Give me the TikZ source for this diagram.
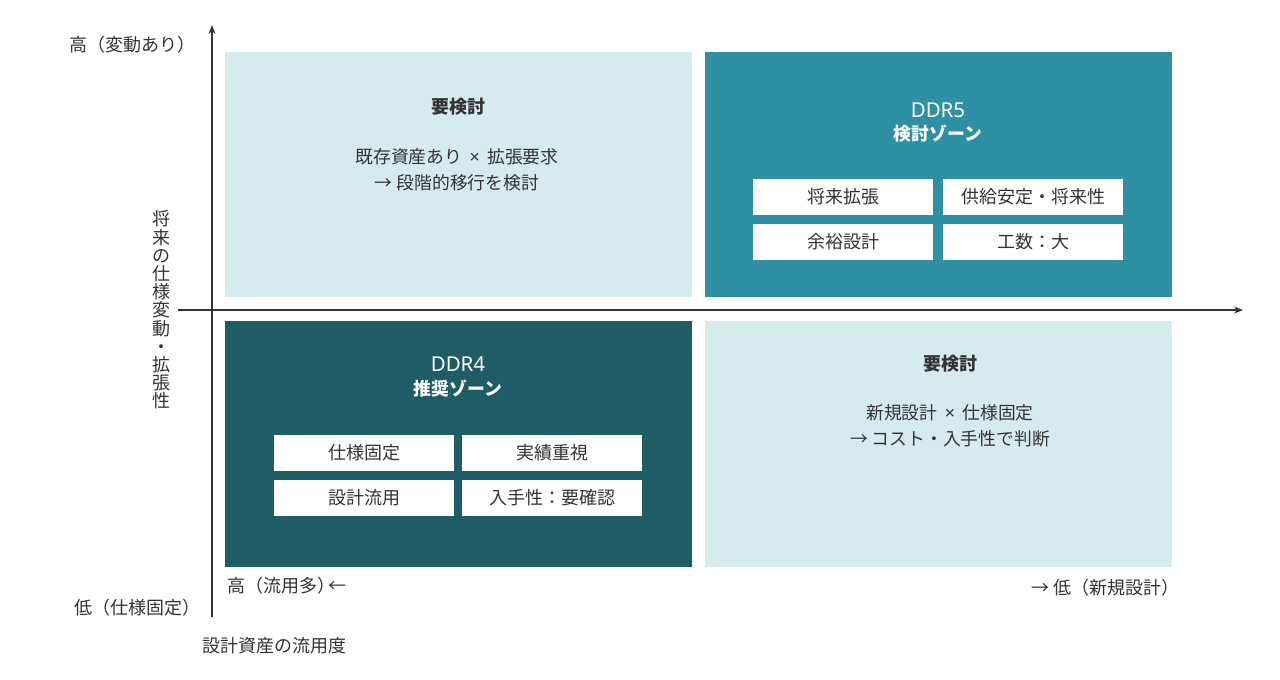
\documentclass[tikz,border=0pt]{standalone}
\usepackage{fontspec}
\setmainfont{Noto Sans CJK JP}
\newfontfamily\ltnfont{Noto Sans}
\usetikzlibrary{arrows.meta}
\definecolor{cLight}{HTML}{D6EBF0}
\definecolor{cMid}{HTML}{3090A3}
\definecolor{cDark}{HTML}{1E5C66}
\definecolor{cAxis}{HTML}{333333}
\definecolor{cText}{HTML}{333333}
\newcommand{\crs}{\hspace{0.42em}{\ltnfont ×}\hspace{0.42em}}
\tikzset{
  quad/.style={draw=none, inner sep=0pt, minimum width=467pt, minimum height=245pt},
  lightq/.style={quad, fill=cLight},
  midq/.style={quad, fill=cMid},
  darkq/.style={quad, fill=cDark},
  item/.style={fill=white, inner sep=0pt, minimum width=180pt, minimum height=36pt,
               text=cText, font=\fontsize{18}{20}\selectfont},
  ttl/.style={font=\fontsize{18}{20}\selectfont\bfseries, text=cText},
  body/.style={font=\fontsize{17.8}{26}\selectfont, text=cText, align=center},
  ddr/.style={font=\fontsize{20.5}{22}\selectfont\ltnfont, text=white},
  zone/.style={font=\fontsize{17.8}{20}\selectfont\bfseries, text=white},
  axlbl/.style={font=\fontsize{18}{20}\selectfont, text=cText, anchor=west, inner sep=0pt},
  axis/.style={-{Stealth[length=9pt,width=7pt]}, draw=cAxis, line width=2.4pt},
}

\begin{document}
\begin{tikzpicture}[x=1pt, y=-1pt]
\useasboundingbox (0,0) rectangle (1280,680);

% Quadrants
\node[lightq] (tl) at (458.5,174.5) {};
\node[midq] (tr) at (938.5,174.5) {};
\node[darkq, minimum height=246pt] (bl) at (458.5,444) {};
\node[lightq, minimum height=246pt] (br) at (938.5,444) {};

% Axes
\coordinate (ybot) at (212,617);
\coordinate (ytop) at (212,25);
\coordinate (xleft) at (178,310);
\coordinate (xright) at (1243,310);
\draw[axis] (ybot) -- (ytop);
\draw[axis] (xleft) -- (xright);

% Top left
\node[ttl] (tlt) at (458,107) {要検討};
\node[body] (tlb) at (457,170) {既存資産あり\crs 拡張要求\\→ 段階的移行を検討};

% Top right: DDR5
\node[ddr] (d5) at (938,110) {DDR5};
\node[zone] (d5z) at (938,134) {検討ゾーン};
\node[item] (t1) at (843,197) {将来拡張};
\node[item] (t2) at (1033,197) {供給安定・将来性};
\node[item] (t3) at (843,242) {余裕設計};
\node[item] (t4) at (1033,242) {工数：大};

% Bottom left: DDR4
\node[ddr] (d4) at (458,364) {DDR4};
\node[zone] (d4z) at (458,389) {推奨ゾーン};
\node[item] (b1) at (364,453) {仕様固定};
\node[item] (b2) at (552,453) {実績重視};
\node[item] (b3) at (364,498) {設計流用};
\node[item] (b4) at (552,498) {入手性：要確認};

% Bottom right
\node[ttl] (brt) at (950,364) {要検討};
\node[body] (brb) at (950,426) {新規設計\crs 仕様固定\\→ コスト・入手性で判断};

% Axis labels
\node[axlbl] (yhi) at (69,45) {高（変動あり）};
\node[axlbl] (ylo) at (74,608) {低（仕様固定）};
\node[font=\fontsize{18}{18.2}\selectfont, text=cText, align=center, inner sep=0pt] (yname) at (161,310)
  {将\\来\\の\\仕\\様\\変\\動\\・\\拡\\張\\性};
\node[axlbl] (xhi) at (227,586) {高（流用多）\kern-0.4em←};
\node[axlbl] (xlo) at (1031,588) {→ 低（新規設計）};
\node[axlbl] (xname) at (202,646) {設計資産の流用度};

\end{tikzpicture}
\end{document}
